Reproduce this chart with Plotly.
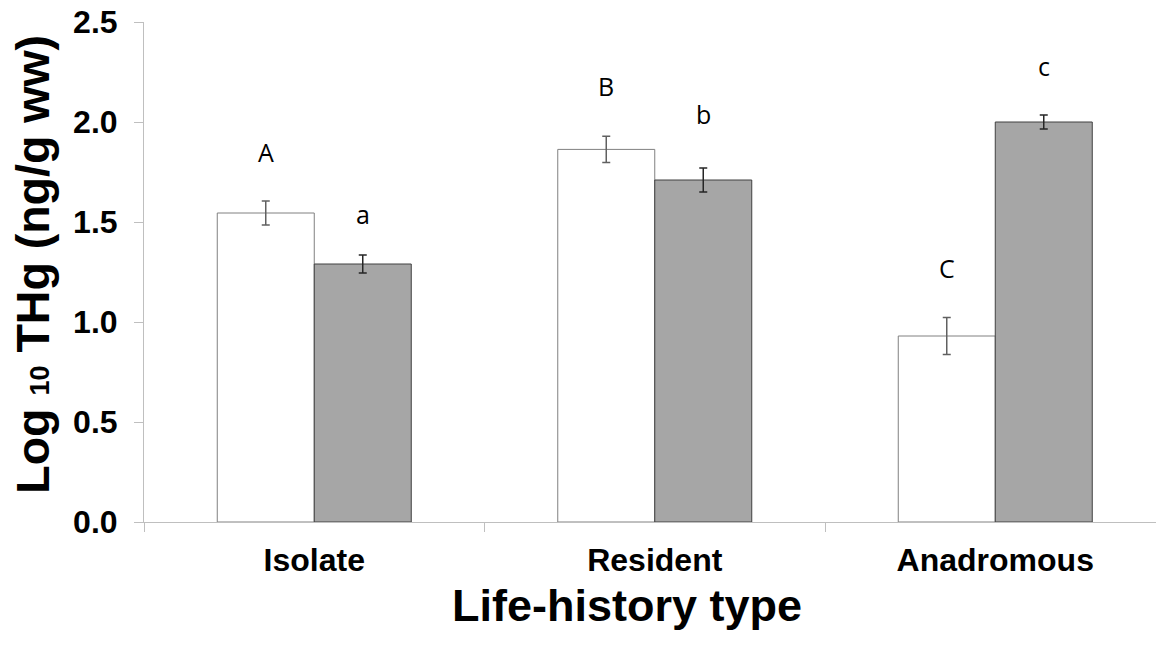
import plotly.graph_objects as go

categories = ["Isolate", "Resident", "Anadromous"]
series1_values = [1.545, 1.863, 0.930]   # white bars
series1_err = [0.060, 0.066, 0.093]
series2_values = [1.290, 1.710, 2.000]   # gray bars
series2_err = [0.045, 0.060, 0.035]
letters1 = ["A", "B", "C"]
letters1_y = [1.85, 2.18, 1.27]
letters2 = ["a", "b", "c"]
letters2_y = [1.54, 2.04, 2.28]
ytick_vals = [0.0, 0.5, 1.0, 1.5, 2.0, 2.5]
ytick_text = ["0.0", "0.5", "1.0", "1.5", "2.0", "2.5"]

W, H = 1156, 646
L, T, B, R = 144, 22.3, 123.7, 0
plot_w = W - L - R
plot_h = H - B - T
cat_px = 340.5

fig = go.Figure()
fig.add_trace(go.Bar(
    x=categories, y=series1_values, name="s1",
    marker=dict(color="white", line=dict(color="#808080", width=1)),
    error_y=dict(type="data", array=series1_err, color="#606060", thickness=1.5, width=4),
))
fig.add_trace(go.Bar(
    x=categories, y=series2_values, name="s2",
    marker=dict(color="#a6a6a6", line=dict(color="#404040", width=1)),
    error_y=dict(type="data", array=series2_err, color="#262626", thickness=1.5, width=4),
))

half = 97 / cat_px / 2
for i in range(len(categories)):
    fig.add_annotation(x=i - half, y=letters1_y[i], xref="x", yref="y", text=letters1[i],
                       showarrow=False, font=dict(family="Open Sans", size=25, color="black"))
    fig.add_annotation(x=i + half, y=letters2_y[i], xref="x", yref="y", text=letters2[i],
                       showarrow=False, font=dict(family="Open Sans", size=25, color="black"))

fig.add_annotation(x=(627 - L) / plot_w, y=-(606 - (H - B)) / plot_h,
                   xref="paper", yref="paper", text="Life-history type", showarrow=False,
                   xanchor="center", yanchor="middle",
                   font=dict(family="Liberation Sans", size=45, weight="bold", color="black"))
fig.add_annotation(x=(33 - L) / plot_w, y=(522.3 - 265) / plot_h, xref="paper", yref="paper",
                   text="Log <span style='font-size:27px'>10</span> THg (ng/g ww)",
                   textangle=-90, showarrow=False, xanchor="center", yanchor="middle",
                   font=dict(family="Liberation Sans", size=46.5, weight="bold", color="black"))

fig.update_layout(
    width=W, height=H,
    margin=dict(l=L, r=R, t=T, b=B, pad=0),
    paper_bgcolor="white", plot_bgcolor="white",
    barmode="group", bargap=1 - 194 / cat_px, bargroupgap=0,
    showlegend=False,
    xaxis=dict(
        type="category", range=[-0.5, -0.5 + plot_w / cat_px],
        showline=True, linecolor="#bfbfbf", linewidth=1,
        ticks="outside", tickson="boundaries", ticklen=9, tickcolor="#bfbfbf", tickwidth=1,
        showgrid=False, zeroline=False, ticklabelstandoff=10,
        tickfont=dict(family="Liberation Sans", size=32, weight="bold", color="black"),
    ),
    yaxis=dict(
        range=[0, 2.5], tickvals=ytick_vals, ticktext=ytick_text,
        showline=True, linecolor="#bfbfbf", linewidth=1,
        ticks="outside", ticklen=9, tickcolor="#bfbfbf", tickwidth=1,
        showgrid=False, zeroline=False, ticklabelstandoff=10,
        tickfont=dict(family="Liberation Sans", size=32, weight="bold", color="black"),
    ),
)

fig.write_html("out.html")
